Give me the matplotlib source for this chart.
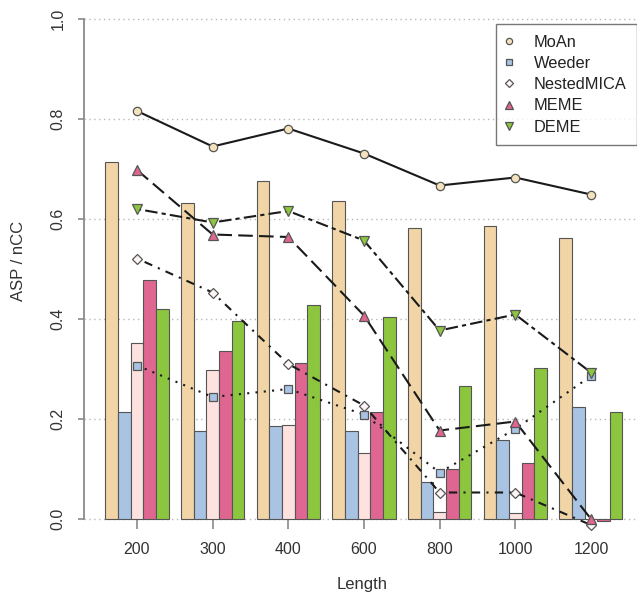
import matplotlib
matplotlib.use("Agg")
import matplotlib.pyplot as plt
from matplotlib.lines import Line2D
import numpy as np

plt.rcParams['font.family'] = ['Liberation Sans', 'DejaVu Sans']

lengths = ["200", "300", "400", "600", "800", "1000", "1200"]
methods = ["MoAn", "Weeder", "NestedMICA", "MEME", "DEME"]

# bar values (nCC)
bar_moan = [0.715, 0.633, 0.676, 0.636, 0.583, 0.587, 0.563]
bar_weeder = [0.214, 0.177, 0.187, 0.177, 0.074, 0.159, 0.225]
bar_nested = [0.352, 0.298, 0.188, 0.133, 0.014, 0.012, 0.0]
bar_meme = [0.478, 0.337, 0.312, 0.214, 0.100, 0.113, -0.004]
bar_deme = [0.421, 0.396, 0.428, 0.405, 0.267, 0.302, 0.214]

# line values (ASP)
line_moan = [0.816, 0.745, 0.781, 0.731, 0.667, 0.683, 0.649]
line_weeder = [0.307, 0.244, 0.260, 0.209, 0.093, 0.180, 0.286]
line_nested = [0.521, 0.453, 0.310, 0.227, 0.053, 0.053, -0.012]
line_meme = [0.698, 0.569, 0.564, 0.407, 0.177, 0.195, 0.0]
line_deme = [0.620, 0.593, 0.616, 0.557, 0.377, 0.409, 0.293]

bars = [bar_moan, bar_weeder, bar_nested, bar_meme, bar_deme]
lines = [line_moan, line_weeder, line_nested, line_meme, line_deme]

bar_colors = ["#F1D5A6", "#A9C3E3", "#FDE2E0", "#DE6690", "#8CC63E"]
mk_colors = ["#F3E2BC", "#A9C3E3", "#FFF6F6", "#DE6690", "#8CC63E"]
markers = ["o", "s", "D", "^", "v"]
msizes = [6, 6, 5, 7, 7]
dashes = [None, (1, 3), (1, 3, 4, 3), (7, 3), (2, 2, 6, 2)]

W, H = 637, 598
fig = plt.figure(figsize=(W / 100, H / 100), dpi=100)

px_per_unit = 500.0
y0_px = 519.0
ylo, yhi = -0.03, 1.03
bottom_px = y0_px - ylo * px_per_unit
top_px = y0_px - yhi * px_per_unit
left_px, right_px = 84.0, 637.0
ax = fig.add_axes([left_px / W, (H - bottom_px) / H,
                   (right_px - left_px) / W, (bottom_px - top_px) / H])

bw = 12.61
c0 = 137.0
xlo = (left_px - c0) / bw
xhi = (right_px - c0) / bw

centers = np.arange(len(lengths)) * 6.0

for t in [0, 0.2, 0.4, 0.6, 0.8, 1.0]:
    ax.axhline(t, color="#B8B8B8", lw=1.0, ls=(0, (1, 2.5)), zorder=0.5)

for j, (vals, col) in enumerate(zip(bars, bar_colors)):
    ax.bar(centers + (j - 2), vals, width=1.0, color=col,
           edgecolor="#555555", linewidth=0.8, zorder=2, clip_on=False)

for j, (vals, mk, mc, ms, ds) in enumerate(zip(lines, markers, mk_colors, msizes, dashes)):
    ln, = ax.plot(centers, vals, color="#1A1A1A", lw=1.5, marker=mk,
                  markersize=ms, markerfacecolor=mc, markeredgecolor="#555555",
                  markeredgewidth=0.9, zorder=3 + j, clip_on=False,
                  solid_capstyle="butt", dash_capstyle="butt")
    if ds is not None:
        ln.set_dashes(ds)

ax.set_xlim(xlo, xhi)
ax.set_ylim(ylo, yhi)

for s in ["top", "right"]:
    ax.spines[s].set_visible(False)
ax.spines["bottom"].set_position(("data", 0))
ax.spines["bottom"].set_color("none")
ax.spines["left"].set_bounds(0, 1)
ax.spines["left"].set_color("#8A8A8A")
ax.spines["left"].set_linewidth(1.3)

ax.set_xticks(centers)
ax.set_xticklabels(lengths)
ax.set_yticks([0, 0.2, 0.4, 0.6, 0.8, 1.0])
ax.set_yticklabels(["0.0", "0.2", "0.4", "0.6", "0.8", "1.0"], rotation=90, va="center")
ax.tick_params(axis="x", length=7, width=1.2, color="#8A8A8A", pad=9.5,
               labelsize=11.5, labelcolor="#333333")
ax.tick_params(axis="y", length=4.5, width=1.2, color="#8A8A8A", pad=9,
               labelsize=11.5, labelcolor="#333333")

fig.text(19 / W, 1 - 261 / H, "ASP / nCC", rotation=90, ha="center", va="center",
         fontsize=12, color="#333333")
fig.text(362 / W, 1 - 585 / H, "Length", ha="center", va="center",
         fontsize=12, color="#333333")

handles = [Line2D([], [], ls="none", marker=mk, markersize=ms * 0.75, markerfacecolor=mc,
                  markeredgecolor="#555555", markeredgewidth=0.9)
           for mk, mc, ms in zip(markers, mk_colors, msizes)]
leg = fig.legend(handles, methods, loc="upper right",
                 bbox_to_anchor=(637 / W, 1 - 24 / H), frameon=True, fancybox=False,
                 fontsize=11.8, handlelength=0.35, handletextpad=1.3, labelspacing=0.38,
                 borderpad=0.65, borderaxespad=0.0)
leg.get_frame().set_edgecolor("#555555")
leg.get_frame().set_linewidth(1.0)
for t in leg.get_texts():
    t.set_color("#222222")

fig.savefig("out.png", dpi=100)
